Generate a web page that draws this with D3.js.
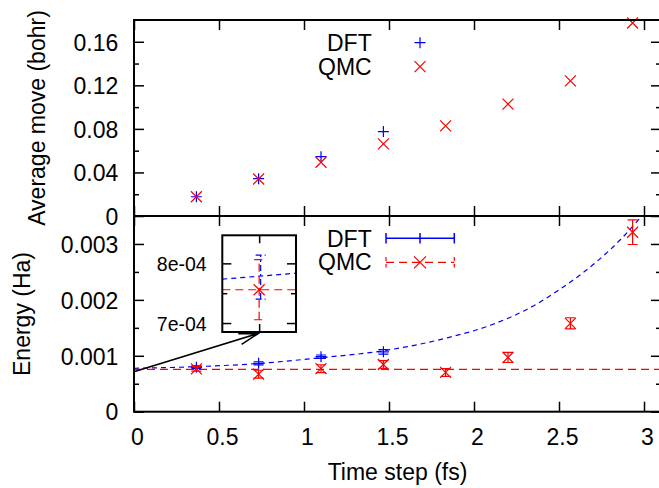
<!DOCTYPE html>
<html>
<head>
<meta charset="utf-8">
<script src="https://cdn.jsdelivr.net/npm/d3@7"></script>
<style>
  body { margin: 0; background: #fff; }
  svg { display: block; font-family: "Liberation Sans", Arial, Helvetica, sans-serif; }
  .tick line { stroke: #000; stroke-width: 1.5; }
  .tick text { fill: #000; }
</style>
</head>
<body>
<div id="chart"></div>
<script>
// time steps (fs)
var steps = [0.367, 0.733, 1.1, 1.467, 1.833, 2.2, 2.567, 2.933];

// top panel: average move (bohr)
var dftMove = [0.0177, 0.0343, 0.0545, 0.0775];
var qmcMove = [0.0177, 0.034, 0.0494, 0.0662, 0.0828, 0.1027, 0.1241, 0.1772];

// bottom panel: energy (Ha) with error bars
var dftEnergy = [0.000794, 0.000866, 0.000984, 0.00107];
var dftErr = [0.000025, 0.000027, 0.00003, 0.00004];
var qmcEnergy = [0.000766, 0.000671, 0.00077, 0.000845, 0.000702, 0.00097, 0.00158, 0.00321];
var qmcErr = [0.00004, 0.00007, 0.00007, 0.00007, 0.00007, 0.00009, 0.0001, 0.00022];

// fits
var dftFitX = [0, 0.367, 0.733, 1.1, 1.467, 1.839, 2.1, 2.33, 2.525, 2.72, 2.859, 2.986, 3.05];
var dftFitY = [0.000776, 0.000806, 0.000862, 0.000966, 0.00109, 0.001318, 0.00155, 0.00186, 0.00223, 0.00268, 0.00307, 0.0035, 0.00375];
var qmcFit = 0.000756;

// inset (zoom on the extrapolation at dt = 0)
var insetDftLineX = [-0.05, 0.05];
var insetDftLineY = [0.0007735, 0.0007835];
var insetDft = 0.000777, insetDftErr = 0.0000368;
var insetQmc = 0.0007558, insetQmcErr = 0.0000503;

// ticks
var xTicks = [0, 0.5, 1, 1.5, 2, 2.5, 3];
var xLabels = ["0", "0.5", "1", "1.5", "2", "2.5", "3"];
var topTicks = [0, 0.04, 0.08, 0.12, 0.16];
var topLabels = ["0", "0.04", "0.08", "0.12", "0.16"];
var topMinor = [0.02, 0.06, 0.1, 0.14];
var botTicks = [0, 0.001, 0.002, 0.003];
var botLabels = ["0", "0.001", "0.002", "0.003"];
var botMinor = [0.0005, 0.0015, 0.0025];
var insetTicks = [0.0007, 0.0008];
var insetLabels = ["7e-04", "8e-04"];
var insetMinor = [0.00075];

var svgWidth = 659;
var svgHeight = 488;
var blue = "#0000ff";
var red = "#ff0000";

var svg = d3.select("#chart")
  .append("svg")
  .attr("width", svgWidth)
  .attr("height", svgHeight);

var x = d3.scaleLinear().domain([0, 3.1]).range([134, 661]);
var yTop = d3.scaleLinear().domain([0, 0.18]).range([216, 20]);
var yBot = d3.scaleLinear().domain([0, 0.0035]).range([411.7, 216]);

var plusPath = "M-5.5,0H5.5M0,-5.5V5.5";
var crossPath = "M-5.5,-5.5L5.5,5.5M-5.5,5.5L5.5,-5.5";

function frameAxes(g, yScale, ticks, labels, minor, showX) {
  var x0 = x.range()[0], x1 = x.range()[1];
  var yr = yScale.range();

  g.append("g")
    .attr("transform", `translate(${x0},0)`)
    .call(d3.axisLeft(yScale).tickValues(ticks).tickSizeInner(-10).tickSizeOuter(0)
      .tickPadding(15.7).tickFormat((d, i) => labels[i]))
    .call(a => a.selectAll("text").attr("dy", "0.36em").style("font-size", "23px"));
  g.append("g")
    .attr("transform", `translate(${x0},0)`)
    .call(d3.axisLeft(yScale).tickValues(minor).tickSizeInner(-5).tickSizeOuter(0).tickFormat(""));
  g.append("g")
    .attr("transform", `translate(${x1},0)`)
    .call(d3.axisRight(yScale).tickValues(ticks).tickSizeInner(-10).tickSizeOuter(0).tickFormat(""));
  g.append("g")
    .attr("transform", `translate(${x1},0)`)
    .call(d3.axisRight(yScale).tickValues(minor).tickSizeInner(-5).tickSizeOuter(0).tickFormat(""));

  g.append("g")
    .attr("transform", `translate(0,${yr[1]})`)
    .call(d3.axisTop(x).tickValues(xTicks).tickSizeInner(-10).tickSizeOuter(0).tickFormat(""));
  var bottom = g.append("g")
    .attr("transform", `translate(0,${yr[0]})`)
    .call(d3.axisBottom(x).tickValues(xTicks).tickSizeInner(-10).tickSizeOuter(0)
      .tickPadding(16.5).tickFormat((d, i) => showX ? xLabels[i] : ""));
  bottom.selectAll("text").attr("dx", 3).style("font-size", "23px");

  g.selectAll(".domain").remove();

  g.append("rect")
    .attr("x", x0)
    .attr("y", yr[1])
    .attr("width", x1 - x0)
    .attr("height", yr[0] - yr[1])
    .attr("fill", "none")
    .attr("stroke", "#000")
    .attr("stroke-width", 2);
}

// ---------- top panel ----------
var topG = svg.append("g");

topG.selectAll(".dftm")
  .data(dftMove)
  .enter()
  .append("path")
  .attr("transform", (d, i) => `translate(${x(steps[i])},${yTop(d)})`)
  .attr("d", plusPath)
  .attr("stroke", blue)
  .attr("stroke-width", 1.2)
  .attr("fill", "none");

topG.selectAll(".qmcm")
  .data(qmcMove)
  .enter()
  .append("path")
  .attr("transform", (d, i) => `translate(${x(steps[i])},${yTop(d)})`)
  .attr("d", crossPath)
  .attr("stroke", red)
  .attr("stroke-width", 1.2)
  .attr("fill", "none");

frameAxes(topG, yTop, topTicks, topLabels, topMinor, false);

// top legend
topG.append("text").attr("x", 371.7).attr("y", 51.2).attr("text-anchor", "end")
  .style("font-size", "23px").text("DFT");
topG.append("text").attr("x", 371.7).attr("y", 75.2).attr("text-anchor", "end")
  .style("font-size", "23px").text("QMC");
topG.append("path").attr("transform", "translate(420,42.7)").attr("d", plusPath)
  .attr("stroke", blue).attr("stroke-width", 1.2).attr("fill", "none");
topG.append("path").attr("transform", "translate(420,66.7)").attr("d", crossPath)
  .attr("stroke", red).attr("stroke-width", 1.2).attr("fill", "none");

// ---------- bottom panel ----------
var botG = svg.append("g");

svg.append("clipPath").attr("id", "botClip")
  .append("rect")
  .attr("x", x.range()[0]).attr("y", yBot.range()[1])
  .attr("width", x.range()[1] - x.range()[0])
  .attr("height", yBot.range()[0] - yBot.range()[1]);

var fitLine = d3.line()
  .x(d => x(d[0]))
  .y(d => yBot(d[1]))
  .curve(d3.curveMonotoneX);

botG.append("path")
  .attr("clip-path", "url(#botClip)")
  .attr("d", fitLine(dftFitX.map((v, i) => [v, dftFitY[i]])))
  .attr("fill", "none")
  .attr("stroke", blue)
  .attr("stroke-width", 1.2)
  .attr("stroke-dasharray", "5,4");

botG.append("line")
  .attr("x1", x.range()[0]).attr("x2", x.range()[1])
  .attr("y1", yBot(qmcFit)).attr("y2", yBot(qmcFit))
  .attr("stroke", red)
  .attr("stroke-width", 1.2)
  .attr("stroke-dasharray", "8,5");

function errorBars(g, xs, vals, errs, color, scaleX, scaleY, marker, dash) {
  var grp = g.append("g")
    .attr("stroke", color)
    .attr("stroke-width", 1.2)
    .attr("fill", "none");
  vals.forEach(function(v, i) {
    var px = scaleX(xs[i]);
    var lo = scaleY(v - errs[i]);
    var hi = scaleY(v + errs[i]);
    var bar = grp.append("path")
      .attr("d", `M${px},${lo}V${hi}M${px - 5},${lo}H${px + 5}M${px - 5},${hi}H${px + 5}`);
    if (dash) bar.attr("stroke-dasharray", dash);
    if (marker) {
      grp.append("path")
        .attr("transform", `translate(${px},${scaleY(v)})`)
        .attr("d", marker);
    }
  });
}

errorBars(botG, steps, dftEnergy, dftErr, blue, x, yBot, plusPath, null);
errorBars(botG, steps, qmcEnergy, qmcErr, red, x, yBot, crossPath, null);

frameAxes(botG, yBot, botTicks, botLabels, botMinor, true);

// bottom legend
botG.append("text").attr("x", 371.7).attr("y", 246.5).attr("text-anchor", "end")
  .style("font-size", "23px").text("DFT");
botG.append("text").attr("x", 371.7).attr("y", 270.3).attr("text-anchor", "end")
  .style("font-size", "23px").text("QMC");
botG.append("path")
  .attr("d", "M386,238.3H454.3M386,233V243.6M454.3,233V243.6M420,233V243.6")
  .attr("stroke", blue).attr("stroke-width", 1.5).attr("fill", "none");
botG.append("path")
  .attr("d", "M386,262.3H454.3")
  .attr("stroke", red).attr("stroke-width", 1.2).attr("stroke-dasharray", "8,5").attr("fill", "none");
botG.append("path")
  .attr("d", "M386,257V267.6M454.3,257V267.6")
  .attr("stroke", red).attr("stroke-width", 1.2).attr("stroke-dasharray", "4,3").attr("fill", "none");
botG.append("path").attr("transform", "translate(420,262.3)").attr("d", "M-6,-6L6,6M-6,6L6,-6")
  .attr("stroke", red).attr("stroke-width", 1.2).attr("fill", "none");

// arrow from the extrapolated point to the inset
var ax0 = x(0), ay0 = yBot(0.000716);
var ax1 = x(0.731), ay1 = yBot(0.0014);
var ang = Math.atan2(ay0 - ay1, ax0 - ax1);
var headLen = 20, headAng = 16.5 * Math.PI / 180;
svg.append("path")
  .attr("d", `M${ax0},${ay0}L${ax1},${ay1}` +
    `M${ax1 + headLen * Math.cos(ang + headAng)},${ay1 + headLen * Math.sin(ang + headAng)}L${ax1},${ay1}` +
    `L${ax1 + headLen * Math.cos(ang - headAng)},${ay1 + headLen * Math.sin(ang - headAng)}`)
  .attr("stroke", "#000")
  .attr("stroke-width", 1.5)
  .attr("fill", "none");

// ---------- inset ----------
var ix = d3.scaleLinear().domain([-0.05, 0.05]).range([222.3, 296]);
var iy = d3.scaleLinear().domain([0.000685, 0.000847]).range([332, 235.3]);
var insetG = svg.append("g");

insetG.append("rect")
  .attr("x", 222.3).attr("y", 235.3)
  .attr("width", 296 - 222.3).attr("height", 332 - 235.3)
  .attr("fill", "#fff");

insetG.append("path")
  .attr("d", d3.line().x(d => ix(d[0])).y(d => iy(d[1]))(insetDftLineX.map((v, i) => [v, insetDftLineY[i]])))
  .attr("stroke", blue).attr("stroke-width", 1.2).attr("stroke-dasharray", "5,4").attr("fill", "none");
insetG.append("line")
  .attr("x1", 222.3).attr("x2", 296)
  .attr("y1", iy(insetQmc)).attr("y2", iy(insetQmc))
  .attr("stroke", red).attr("stroke-width", 1.2).attr("stroke-dasharray", "8,5");

errorBars(insetG, [0], [insetDft], [insetDftErr], blue, v => ix(v) + 1.5, iy, null, "6,3,2,3");
errorBars(insetG, [0], [insetQmc], [insetQmcErr], red, ix, iy, crossPath, "8,4");

insetG.append("g")
  .attr("transform", "translate(222.3,0)")
  .call(d3.axisLeft(iy).tickValues(insetTicks).tickSizeInner(-9).tickSizeOuter(0)
    .tickPadding(15.6).tickFormat((d, i) => insetLabels[i]))
  .call(a => a.selectAll("text").attr("dy", "0.36em").style("font-size", "19.5px"));
insetG.append("g")
  .attr("transform", "translate(222.3,0)")
  .call(d3.axisLeft(iy).tickValues(insetMinor).tickSizeInner(-5).tickSizeOuter(0).tickFormat(""));
insetG.append("g")
  .attr("transform", "translate(296,0)")
  .call(d3.axisRight(iy).tickValues(insetTicks).tickSizeInner(-9).tickSizeOuter(0).tickFormat(""));
insetG.append("g")
  .attr("transform", "translate(296,0)")
  .call(d3.axisRight(iy).tickValues(insetMinor).tickSizeInner(-5).tickSizeOuter(0).tickFormat(""));
insetG.append("g")
  .attr("transform", "translate(0,235.3)")
  .call(d3.axisTop(ix).tickValues([0]).tickSizeInner(-8).tickSizeOuter(0).tickFormat(""));
insetG.append("g")
  .attr("transform", "translate(0,332)")
  .call(d3.axisBottom(ix).tickValues([0]).tickSizeInner(-8).tickSizeOuter(0).tickFormat(""));
insetG.selectAll(".domain").remove();

insetG.append("rect")
  .attr("x", 222.3).attr("y", 235.3)
  .attr("width", 296 - 222.3).attr("height", 332 - 235.3)
  .attr("fill", "none")
  .attr("stroke", "#000")
  .attr("stroke-width", 2);

// ---------- axis titles ----------
svg.append("text")
  .attr("transform", "translate(44.5,118) rotate(-90)")
  .attr("text-anchor", "middle")
  .style("font-size", "23px")
  .text("Average move (bohr)");

svg.append("text")
  .attr("transform", "translate(30,314) rotate(-90)")
  .attr("text-anchor", "middle")
  .style("font-size", "23px")
  .text("Energy (Ha)");

svg.append("text")
  .attr("x", 397.5)
  .attr("y", 480)
  .attr("text-anchor", "middle")
  .style("font-size", "23px")
  .text("Time step (fs)");
</script>
</body>
</html>
